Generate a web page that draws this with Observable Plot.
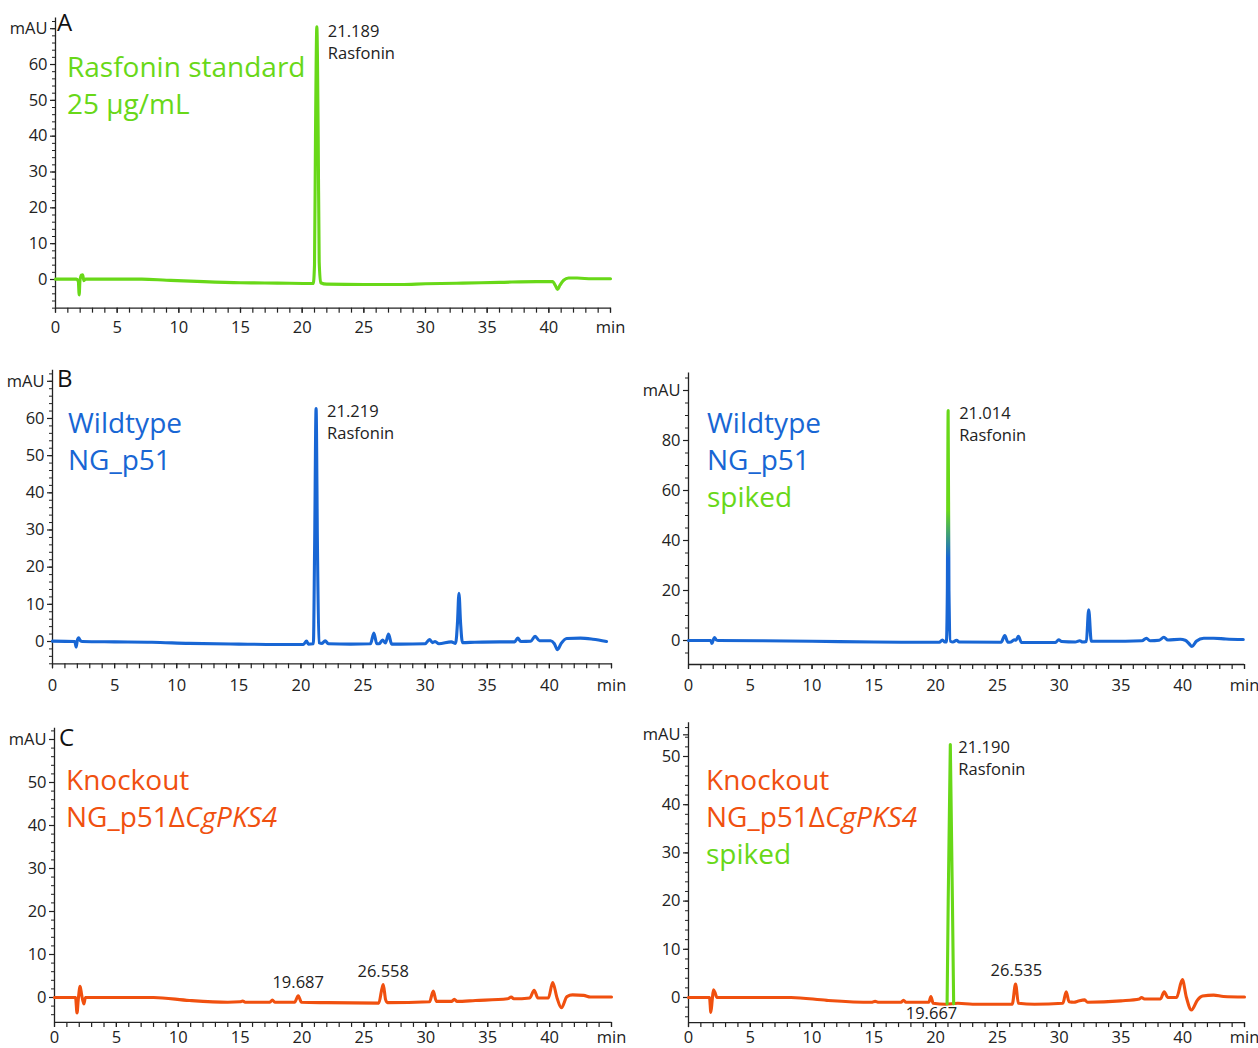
<!DOCTYPE html>
<html><head><meta charset="utf-8">
<script src="https://cdn.jsdelivr.net/npm/d3@7"></script>
<script src="https://cdn.jsdelivr.net/npm/@observablehq/plot@0.6"></script>
<style>
body{margin:0;background:#fff;}
#fig{position:relative;width:1258px;height:1048px;overflow:hidden;font-family:"Open Sans",sans-serif;background:#fff;}
#fig svg{position:absolute;overflow:visible;}
.lbl{position:absolute;font-size:28px;line-height:37px;white-space:nowrap;}
.letter{position:absolute;font-size:24px;line-height:24px;color:#111;}
</style></head><body><div id="fig"></div>
<script>
// ---------- colours ----------
const GREEN = "#68d818", BLUE = "#1866d4", ORANGE = "#f0500f";

// ---------- tick values / labels ----------
const xTicks = [0,5,10,15,20,25,30,35,40,45];
const xTickLabels = ["0","5","10","15","20","25","30","35","40","min"];
const yTicksA = [0,10,20,30,40,50,60,70];
const yLabelsA = ["0","10","20","30","40","50","60","mAU"];
const yTicksBL = [0,10,20,30,40,50,60,70];
const yLabelsBL = ["0","10","20","30","40","50","60","mAU"];
const yTicksBR = [0,20,40,60,80,100];
const yLabelsBR = ["0","20","40","60","80","mAU"];
const yTicksCL = [0,10,20,30,40,50,60];
const yLabelsCL = ["0","10","20","30","40","50","mAU"];
const yTicksCR = [0,10,20,30,40,50,54.5];
const yLabelsCR = ["0","10","20","30","40","50","mAU"];

// ---------- traces: [time (min), absorbance (mAU)] ----------
const traceA = [[0,0.1],[1.7,0.1],[1.85,-0.5],[1.92,-4.3],[1.98,-0.5],[2.1,1.2],[2.2,1.3],[2.3,-0.3],[2.45,0.1],[4,0.1],[7,0.1],[9,-0.2],[12,-0.6],[15,-0.9],[18,-1.0],[20.9,-1.1],[21.0,4],[21.08,40],[21.189,70.5],[21.3,40],[21.38,5],[21.5,-0.9],[22,-1.3],[25,-1.4],[28,-1.4],[30,-1.2],[33,-1.0],[36,-0.8],[39,-0.6],[40.3,-0.6],[40.55,-1.8],[40.7,-2.8],[40.9,-1.6],[41.2,-0.2],[41.6,0.4],[42.3,0.4],[43.5,0.2],[45,0.2]];

const traceBL = [[0,0.1],[1.8,0],[1.9,-1.5],[2.0,0.3],[2.1,1.0],[2.25,0.2],[2.4,0],[5,-0.1],[8,-0.2],[11,-0.5],[15,-0.7],[18,-0.8],[20.2,-0.8],[20.45,0.1],[20.6,-0.7],[21.0,-0.6],[21.1,25],[21.219,62.7],[21.33,25],[21.45,-0.3],[21.7,-0.5],[21.95,0.2],[22.2,-0.6],[24,-0.7],[25.6,-0.6],[25.87,2.3],[26.1,-0.6],[26.3,-0.6],[26.57,0.4],[26.8,-0.4],[27.05,2.0],[27.3,-0.7],[28,-0.7],[30.0,-0.6],[30.35,0.5],[30.6,-0.3],[30.8,0.0],[31.1,-0.6],[32.1,-0.1],[32.45,-0.5],[32.6,5],[32.72,13.0],[32.85,5],[33.0,-0.3],[34,-0.2],[36,-0.1],[37.2,-0.1],[37.45,0.9],[37.7,0],[38.5,0.1],[38.85,1.4],[39.2,0.2],[40.1,0.2],[40.4,-0.6],[40.65,-2.2],[40.95,-0.5],[41.4,0.8],[42.5,0.9],[43.5,0.6],[44.6,0.0]];

const traceBR = [[0,0],[1.8,0],[1.9,-1.2],[2.0,0.2],[2.1,1.2],[2.25,0.2],[2.4,0],[6,-0.1],[10,-0.3],[15,-0.6],[18,-0.7],[20.3,-0.7],[20.55,0.2],[20.75,-0.6],[20.87,-0.6],[20.95,20],[21.014,92],[21.08,20],[21.2,-0.3],[21.4,-0.6],[21.7,0.1],[21.9,-0.6],[25.3,-0.7],[25.6,2.0],[25.85,-0.7],[26.1,-0.6],[26.36,0.3],[26.5,0.1],[26.7,1.7],[26.95,-0.8],[29.7,-0.8],[29.96,0.3],[30.2,-0.4],[31.3,-0.6],[31.67,-0.1],[31.9,-0.6],[32.2,-0.4],[32.39,12.3],[32.6,-0.3],[34,-0.3],[36.7,-0.1],[37.06,0.9],[37.35,-0.1],[38.1,0.1],[38.47,1.3],[38.8,0.2],[39.8,0.5],[40.2,0.1],[40.5,-1.2],[40.75,-2.4],[41.1,-0.3],[41.7,0.9],[42.5,0.9],[43.5,0.6],[44.9,0.4]];

const traceCL = [[0,0],[1.7,0],[1.82,-3.6],[1.92,-0.5],[2.07,2.6],[2.2,0.5],[2.37,-1.5],[2.5,0],[5,0],[8,0],[10.9,-0.7],[14,-1.1],[15.0,-1.0],[15.2,-0.8],[15.4,-1.1],[17.4,-1.1],[17.6,-0.6],[17.8,-1.1],[19.4,-1.1],[19.69,0.4],[19.95,-1.1],[22,-1.2],[26.2,-1.3],[26.45,2.0],[26.56,3.0],[26.75,-0.5],[26.9,-1.2],[30.3,-1.0],[30.6,1.5],[30.85,-0.9],[32.1,-0.9],[32.3,-0.4],[32.5,-0.9],[34,-0.7],[36.6,-0.3],[36.9,0.1],[37.1,-0.3],[38.4,-0.1],[38.75,1.7],[39.05,-0.1],[39.9,-0.1],[40.25,3.5],[40.6,-0.1],[40.95,-2.4],[41.4,0.2],[41.85,0.6],[42.75,0.5],[43.3,0.1],[45,0.1]];

const traceCR = [[0,0],[1.7,0],[1.81,-3.1],[1.92,-0.5],[2.02,1.6],[2.15,1.0],[2.3,0],[8.3,0],[11.2,-0.6],[14.8,-1.0],[15.1,-0.8],[15.4,-1.0],[17.2,-1.0],[17.4,-0.6],[17.6,-1.0],[19.45,-1.0],[19.62,0.2],[19.8,-1.2],[20.8,-1.4],[21.8,-1.2],[23,-1.4],[26.2,-1.4],[26.47,2.8],[26.7,-1.2],[28,-1.4],[30.3,-1.2],[30.57,1.2],[30.8,-0.9],[31.2,-1.0],[31.5,-0.8],[32.06,-0.5],[32.3,-1.0],[35.0,-0.7],[36.5,-0.3],[36.67,0],[36.9,-0.3],[38.2,-0.3],[38.5,1.2],[38.8,0],[39.5,0],[39.97,3.7],[40.3,0],[40.7,-2.6],[41.2,-0.5],[41.6,0.3],[42.5,0.5],[43.3,0.2],[45,0.1]];
const spikeCR = [[20.93,-1.3],[21.02,20],[21.19,52.5],[21.36,20],[21.46,-1.3]];

// ---------- peak annotations ----------
const peaksA = [{t:21.189, v:70.5, text:"21.189\nRasfonin"}];
const peaksBL = [{t:21.219, v:62.7, text:"21.219\nRasfonin"}];
const peaksBR = [{t:21.014, v:92, text:"21.014\nRasfonin"}];
const peaksCL = [{t:19.687, v:0.4, text:"19.687"},{t:26.558, v:3.0, text:"26.558"}];
const peaksCRright = [{t:21.19, v:52.5, text:"21.190\nRasfonin"}];
const peaksCRabove = [{t:26.535, v:2.8, text:"26.535"}];
const peaksCRbelow = [{t:19.667, v:0.2, text:"19.667"}];

const fig = document.getElementById("fig");

function build(cfg) {
  const {left, top, width, height, x0, x45, y0, k, lo, hi, yTicks, yLabels, minorStep, lines, texts, grad, xPad} = cfg;
  const mL = x0 - left, mR = left + width - x45;
  const mT = (y0 - hi * k) - top, mB = top + height - (y0 - lo * k);
  const minors = d3.range(Math.ceil(lo / minorStep) * minorStep, hi, minorStep);
  const marks = [
    Plot.axisY({ticks: minors, tickSize: 3, tickFormat: () => "", label: null, strokeWidth: 1}),
    Plot.axisY({ticks: yTicks, tickSize: 5, tickPadding: 3, tickFormat: d => yLabels[yTicks.indexOf(d)], label: null, strokeWidth: 1.2}),
    Plot.axisX({ticks: d3.range(0, 46, 1), tickSize: 5, tickFormat: () => "", label: null, strokeWidth: 1.2}),
    Plot.axisX({ticks: xTicks, tickSize: 5, tickPadding: xPad, tickFormat: d => xTickLabels[xTicks.indexOf(d)], label: null, strokeWidth: 1.2}),
    Plot.ruleX([0], {y1: lo, y2: hi, stroke: "#222", strokeWidth: 1.3}),
    Plot.ruleY([lo], {x1: 0, x2: 45, stroke: "#222", strokeWidth: 1.3})
  ];
  for (const l of lines) {
    marks.push(Plot.line(l.data, {x: d => d[0], y: d => d[1], stroke: l.stroke, strokeWidth: 3.1, curve: l.curve || "monotone-x", strokeLinejoin: "round"}));
  }
  for (const t of texts) marks.push(Plot.text(t.data, Object.assign({x: "t", y: "v", text: "text", fontSize: 16.5, fill: "#222", lineHeight: 1.33}, t.opts)));
  const svg = Plot.plot({
    width, height, marginLeft: mL, marginRight: mR, marginTop: mT, marginBottom: mB,
    x: {domain: [0, 45]}, y: {domain: [lo, hi]},
    style: {fontFamily: "'Open Sans', sans-serif", fontSize: "16.5px", color: "#222", background: "transparent", overflow: "visible"},
    marks
  });
  svg.style.left = left + "px";
  svg.style.top = top + "px";
  if (grad) {
    const ys = svg.scale("y");
    const ns = "http://www.w3.org/2000/svg";
    const defs = document.createElementNS(ns, "defs");
    const lg = document.createElementNS(ns, "linearGradient");
    lg.setAttribute("id", grad.id);
    lg.setAttribute("gradientUnits", "userSpaceOnUse");
    lg.setAttribute("x1", 0); lg.setAttribute("x2", 0);
    lg.setAttribute("y1", ys.apply(grad.from)); lg.setAttribute("y2", ys.apply(grad.to));
    for (const [o, c] of [[0, grad.c0], [1, grad.c1]]) {
      const s = document.createElementNS(ns, "stop");
      s.setAttribute("offset", o); s.setAttribute("stop-color", c);
      lg.appendChild(s);
    }
    defs.appendChild(lg);
    svg.insertBefore(defs, svg.firstChild);
  }
  fig.appendChild(svg);
}

const rightOpts = {textAnchor: "start", lineAnchor: "top", dx: 11, dy: -7};
const aboveOpts = {textAnchor: "middle", lineAnchor: "bottom", dy: -8};
const belowOpts = {textAnchor: "middle", lineAnchor: "top", dy: 7};

build({left: 0, top: 0, width: 630, height: 345, x0: 55, x45: 610, y0: 279, k: 3.583, lo: -8, hi: 73,
  yTicks: yTicksA, yLabels: yLabelsA, minorStep: 2, xPad: 8,
  lines: [{data: traceA, stroke: GREEN}], texts: [{data: peaksA, opts: Object.assign({}, rightOpts, {dy: -5})}]});

build({left: 0, top: 355, width: 630, height: 345, x0: 52, x45: 611, y0: 641, k: 3.717, lo: -6, hi: 73,
  yTicks: yTicksBL, yLabels: yLabelsBL, minorStep: 2, xPad: 10,
  lines: [{data: traceBL, stroke: BLUE}], texts: [{data: peaksBL, opts: rightOpts}]});

build({left: 630, top: 355, width: 628, height: 345, x0: 688, x45: 1244, y0: 640, k: 2.5, lo: -9.6, hi: 107,
  yTicks: yTicksBR, yLabels: yLabelsBR, minorStep: 5, xPad: 10,
  lines: [{data: traceBR, stroke: "url(#spikeGrad)"}], texts: [{data: peaksBR, opts: rightOpts}],
  grad: {id: "spikeGrad", from: 33, to: 52, c0: BLUE, c1: GREEN}});

build({left: 0, top: 710, width: 630, height: 338, x0: 54, x45: 611, y0: 997, k: 4.3, lo: -5.8, hi: 62.6,
  yTicks: yTicksCL, yLabels: yLabelsCL, minorStep: 2, xPad: 3.5,
  lines: [{data: traceCL, stroke: ORANGE}], texts: [{data: peaksCL, opts: aboveOpts}]});

build({left: 630, top: 710, width: 628, height: 338, x0: 688, x45: 1244, y0: 997, k: 4.82, lo: -5.2, hi: 57,
  yTicks: yTicksCR, yLabels: yLabelsCR, minorStep: 2, xPad: 3.5,
  lines: [{data: traceCR, stroke: ORANGE}, {data: spikeCR, stroke: GREEN, curve: "linear"}],
  texts: [{data: peaksCRright, opts: Object.assign({}, rightOpts, {dx: 8})}, {data: peaksCRabove, opts: aboveOpts}, {data: peaksCRbelow, opts: belowOpts}]});

// ---------- panel letters and sample labels ----------
function addDiv(cls, left, top, html, color) {
  const d = document.createElement("div");
  d.className = cls; d.style.left = left + "px"; d.style.top = top + "px";
  if (color) d.style.color = color;
  d.innerHTML = html; fig.appendChild(d);
}
addDiv("letter", 57, 10, "A");
addDiv("letter", 57, 366, "B");
addDiv("letter", 59, 725, "C");
addDiv("lbl", 67, 47.5, "Rasfonin standard<br>25 μg/mL", GREEN);
addDiv("lbl", 68, 403.5, "Wildtype<br>NG_p51", BLUE);
addDiv("lbl", 707, 403.5, "Wildtype<br>NG_p51<br><span style='color:" + GREEN + "'>spiked</span>", BLUE);
addDiv("lbl", 66, 760.5, "Knockout<br>NG_p51Δ<i>CgPKS4</i>", ORANGE);
addDiv("lbl", 706, 760.5, "Knockout<br>NG_p51Δ<i>CgPKS4</i><br><span style='color:" + GREEN + "'>spiked</span>", ORANGE);
</script></body></html>
